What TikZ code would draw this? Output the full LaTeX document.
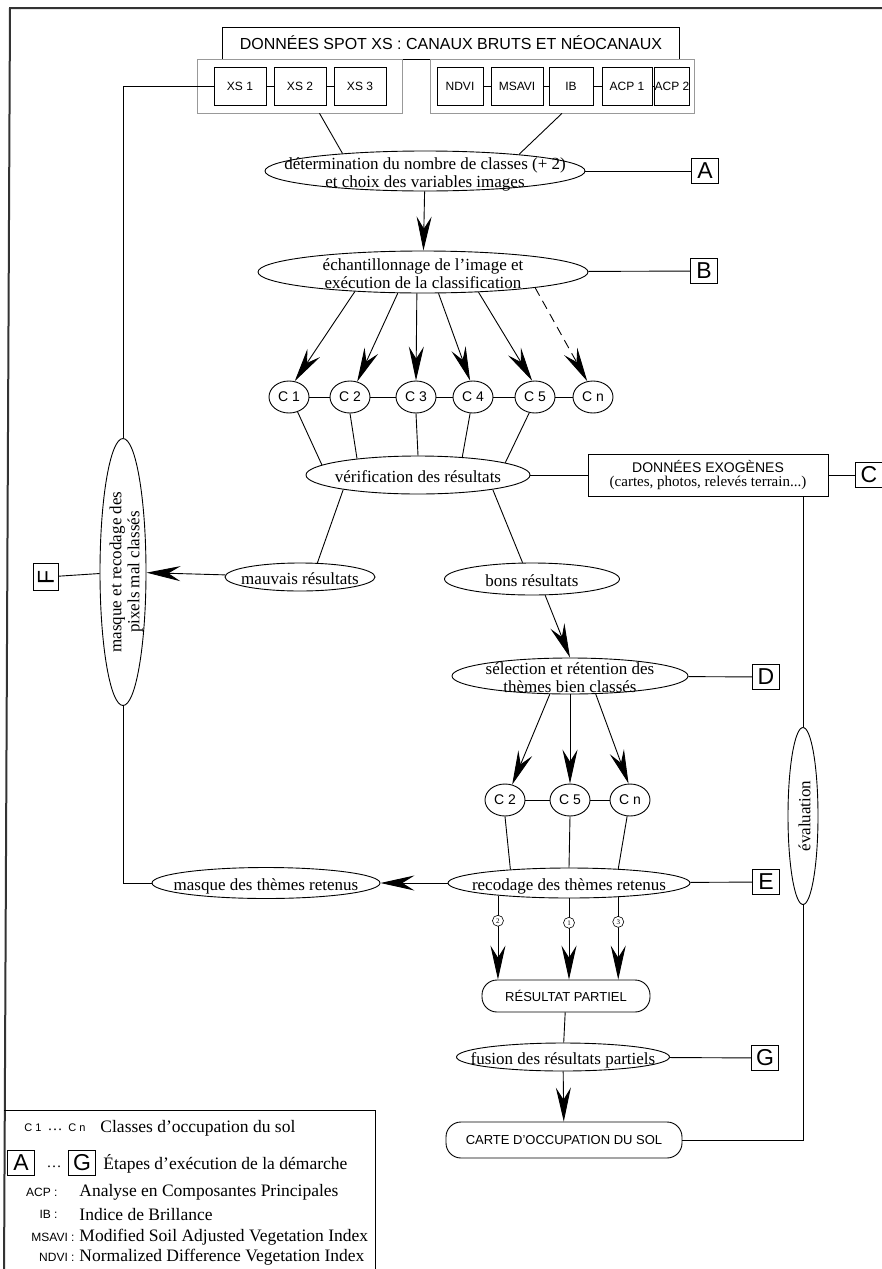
\documentclass[tikz,border=0pt]{standalone}
\usepackage{fontspec}
\setmainfont{Liberation Serif}
\setsansfont{Liberation Sans}
\usetikzlibrary{shapes.geometric,arrows.meta}
\newcommand{\bul}[1]{\smash{\makebox[0pt]{\raisebox{-8pt}{\begin{tabular}{@{}c@{}}#1\end{tabular}}}}}

\begin{document}
\begin{tikzpicture}[x=1pt,y=-1pt,line width=0.9pt,
	bulle/.style={ellipse,draw,inner sep=0pt,font=\fontsize{17}{18}\selectfont},
	classe/.style={ellipse,draw,inner sep=0pt,minimum width=40pt,minimum height=32pt,font=\sffamily\fontsize{14}{14}\selectfont},
	lettre/.style={draw,inner sep=0pt,minimum width=27pt,minimum height=25pt,font=\sffamily\fontsize{23}{23}\selectfont},
	canal/.style={draw,inner sep=0pt,minimum height=38pt,font=\sffamily\fontsize{12}{12}\selectfont},
	cadre/.style={draw,rounded corners=15pt,inner sep=0pt,font=\sffamily\fontsize{13}{13}\selectfont},
	groupe/.style={draw=black!40,line width=0.7pt,inner sep=0pt,minimum height=54pt},
	fleche/.style={-{Stealth[length=34pt,width=15pt,inset=12pt]}},
	petit/.style={circle,draw,fill=white,inner sep=0pt,minimum size=11pt,line width=0.6pt,font=\fontsize{7}{7}\selectfont},
	leg/.style={anchor=west,inner sep=0pt,font=\fontsize{17.5}{18}\selectfont},
	abrev/.style={anchor=east,inner sep=0pt,font=\sffamily\fontsize{12}{12}\selectfont}]
\useasboundingbox (0,0) rectangle (881,1269);
% cadre de la page
\draw[line width=2pt,black!80] (4,1280) -- (10,8) -- (890,8);

% donnees SPOT
\node[draw,inner sep=0pt,minimum width=457pt,minimum height=32pt,font=\sffamily\fontsize{16}{16}\selectfont] (spot) at (451,43) {DONNÉES SPOT XS : CANAUX BRUTS ET NÉOCANAUX};
\node[groupe,minimum width=205pt] (gxs) at (299.5,86) {};
\node[groupe,minimum width=264pt] (gneo) at (562,86) {};
\foreach \nom/\txt/\cx/\lg in {xsa/XS 1/240/52,xsb/XS 2/300/52,xsc/XS 3/360/52,ndvi/NDVI/460/46,msavi/MSAVI/517/52,ib/IB/571/44,acpa/ACP 1/627/50,acpb/ACP 2/672/34}
	\node[canal,minimum width=\lg] (\nom) at (\cx,86) {\txt};
\draw (xsa) -- (xsb) -- (xsc);
\draw (ndvi) -- (msavi) -- (ib) -- (acpa) -- (acpb);

% etapes
\node[bulle,minimum width=320pt,minimum height=40pt] (det) at (425,171) {\bul{détermination du nombre de classes (+ 2)\\et choix des variables images}};
\node[lettre] (a) at (705,171) {A};
\node[bulle,minimum width=330pt,minimum height=42pt] (ech) at (423,272) {\bul{échantillonnage de l'image et\\exécution de la classification}};
\node[lettre] (b) at (704,271) {B};
\foreach \nom/\txt/\cx in {c1/C 1/289,c2/C 2/350,c3/C 3/416,c4/C 4/473,c5/C 5/535,c6/C n/593}
	\node[classe] (\nom) at (\cx,397) {\txt};
\node[bulle,minimum width=224pt,minimum height=38pt] (ver) at (418,475) {\bul{vérification des résultats}};
\node[draw,inner sep=0pt,minimum width=240pt,minimum height=42pt,align=center] (exo) at (708,475) {{\sffamily\fontsize{14}{16}\selectfont DONNÉES EXOGÈNES}\\[2pt]{\fontsize{15}{16}\selectfont (cartes, photos, relevés terrain...)}};
\node[lettre] (cc) at (869,475) {C};
\node[bulle,minimum width=150pt,minimum height=28pt] (mauv) at (300,577) {\bul{mauvais résultats}};
\node[bulle,minimum width=175pt,minimum height=32pt] (bons) at (532,579) {\bul{bons résultats}};
\node[bulle,rotate=90,minimum width=267pt,minimum height=46pt] (masq) at (123,572) {\bul{masque et recodage des\\pixels mal classés}};
\node[lettre,rotate=90] (f) at (46,577) {F};
\node[bulle,minimum width=236pt,minimum height=36pt] (sel) at (570,676) {\bul{sélection et rétention des\\thèmes bien classés}};
\node[lettre] (d) at (766,677) {D};
\foreach \nom/\txt/\cx in {d2/C 2/505,d5/C 5/570,dn/C n/630}
	\node[classe] (\nom) at (\cx,800) {\txt};
\node[bulle,minimum width=242pt,minimum height=30pt] (rec) at (569,883) {\bul{recodage des thèmes retenus}};
\node[lettre] (e) at (766,882) {E};
\node[bulle,minimum width=228pt,minimum height=31pt] (mth) at (266,883) {\bul{masque des thèmes retenus}};
\node[bulle,rotate=90,minimum width=177pt,minimum height=30pt] (eval) at (803,816) {\bul{évaluation}};
\node[cadre,minimum width=168pt,minimum height=32pt] (res) at (566,996) {RÉSULTAT PARTIEL};
\node[bulle,minimum width=213pt,minimum height=28pt] (fus) at (563,1057) {\bul{fusion des résultats partiels}};
\node[lettre] (g) at (765,1058) {G};
\node[cadre,minimum width=236pt,minimum height=36pt] (carte) at (564,1140) {CARTE D'OCCUPATION DU SOL};

% liaisons
\draw ([xshift=20pt]gxs.south) -- (det.168);
\draw (gneo.south) -- (det.10);
\draw (det) -- (a);
\draw[fleche] (det) -- (ech);
\draw (ech) -- (b);
\foreach \an/\c/\bn in {196/c1/70,220/c2/65,254/c3/90,306/c4/100,340/c5/100}
	\draw[fleche] (ech.\an) -- (\c.\bn);
\draw[fleche,dash pattern=on 9pt off 6pt] (ech.352) -- (c6.110);
\draw (c1) -- (c2) -- (c3) -- (c4) -- (c5) -- (c6);
\foreach \c/\an/\bn in {c1/300/174,c2/270/165,c3/270/90,c4/260/22,c5/250/8}
	\draw (\c.\an) -- (ver.\bn);
\draw (ver) -- (exo);
\draw (exo) -- (cc);
\draw (ver.191) -- (mauv.39);
\draw (ver.349) -- (bons.120);
\draw[fleche] (mauv) -- (masq);
\draw (f) -- (masq);
\draw (xsa) -| (masq.east);
\draw (masq.west) |- (mth);
\draw[fleche] (bons.309) -- (sel.north);
\draw (sel) -- (d);
\foreach \an/\c/\bn in {222/d2/65,270/d5/90,325/dn/95}
	\draw[fleche] (sel.\an) -- (\c.\bn);
\draw (d2) -- (d5) -- (dn);
\foreach \c/\an/\bn in {d2/270/167,d5/270/90,dn/260/16}
	\draw (\c.\an) -- (rec.\bn);
\draw (rec) -- (e);
\draw[fleche] (rec) -- (mth);
\foreach \an/\nom/\v in {190/pa/2,270/pb/1,344/pc/3}
	\draw[fleche] (rec.\an) -- (rec.\an |- res.north) node[petit,pos=0.3] (\nom) {\v};
\draw (res) -- (fus);
\draw (fus) -- (g);
\draw[fleche] (fus) -- (carte);
\draw (exo.south -| eval.east) -- (eval.east);
\draw (eval.west) |- (carte);

% legende
\draw (4,1110) -- (375,1110) -- (375,1280);
\node[font=\sffamily\fontsize{11}{11}\selectfont] (lc1) at (33,1128) {C 1};
\node[font=\fontsize{15}{15}\selectfont] (lpa) at (55,1130) {\dots};
\node[font=\sffamily\fontsize{11}{11}\selectfont] (lcn) at (77,1128) {C n};
\node[leg] (lcl) at (100,1128) {Classes d'occupation du sol};
\node[lettre] (la) at (21,1163) {A};
\node[font=\fontsize{15}{15}\selectfont] (lpb) at (54,1167) {\dots};
\node[lettre] (lg) at (82,1163) {G};
\node[leg] (let) at (103,1164) {Étapes d'exécution de la démarche};
\foreach \nom/\ab/\xa/\txt/\y in {lacp/ACP :/58/Analyse en Composantes Principales/1192,lib/IB :/58/Indice de Brillance/1214,lmsavi/MSAVI :/75/Modified Soil Adjusted Vegetation Index/1237,lndvi/NDVI :/75/Normalized Difference Vegetation Index/1257}{
	\node[abrev] (\nom) at (\xa,\y) {\ab};
	\node[leg] (\nom-t) at (79,\y) {\txt};
}
\end{tikzpicture}
\end{document}
